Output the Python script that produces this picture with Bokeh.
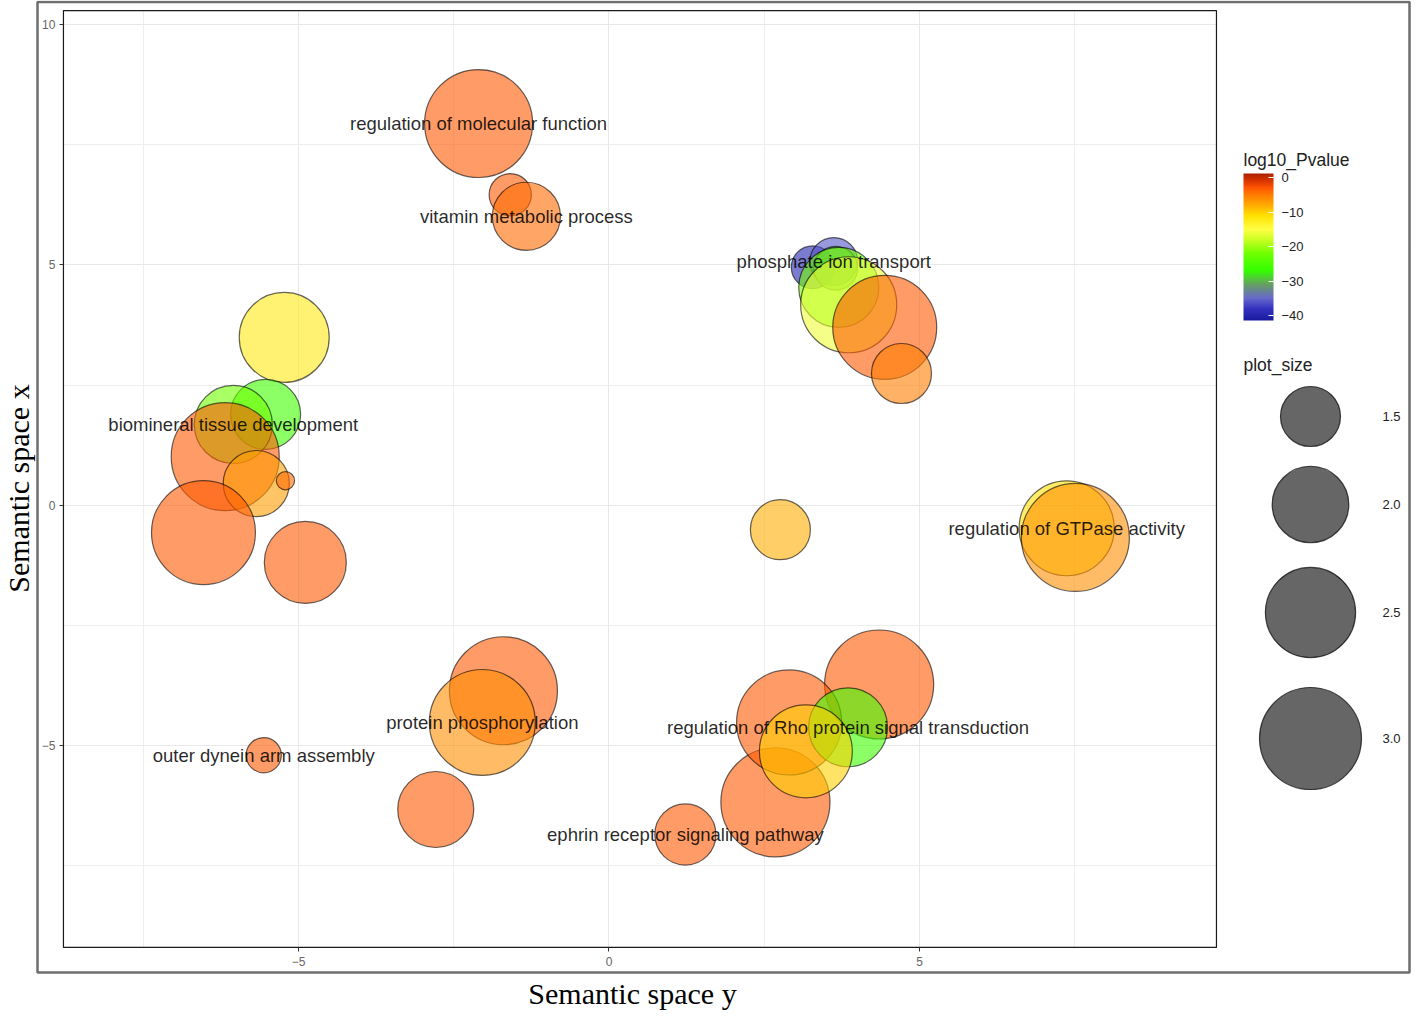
import math
from bokeh.plotting import figure
from bokeh.models import (ColumnDataSource, LinearColorMapper, ColorBar, FixedTicker,
                          Label, BoxAnnotation, Range1d, Grid)
from bokeh.core.properties import value
from bokeh.embed import file_html
from bokeh.resources import INLINE

# ---------------- data ----------------
terms = ["regulation of molecular function", "", "vitamin metabolic process",
         "", "phosphate ion transport", "", "", "", "", "",
         "", "", "biomineral tissue development", "", "", "", "", "",
         "", "regulation of GTPase activity", "",
         "", "protein phosphorylation", "", "outer dynein arm assembly",
         "ephrin receptor signaling pathway", "", "", "",
         "regulation of Rho protein signal transduction", ""]
plot_X = [-2.10, -1.59, -1.33,
          3.28, 3.62, 3.65, 3.70, 3.86, 4.44, 4.71,
          -5.23, -5.53, -6.05, -6.18, -5.68, -5.21, -6.53, -4.89,
          2.76, 7.37, 7.51,
          -1.70, -2.04, -2.79, -5.56,
          1.23, 2.68, 4.35, 2.90, 3.85, 3.17]
plot_Y = [7.94, 6.46, 6.01,
          4.95, 5.07, 4.93, 4.53, 4.17, 3.70, 2.74,
          3.49, 1.89, 1.68, 1.01, 0.45, 0.51, -0.57, -1.19,
          -0.51, -0.48, -0.67,
          -3.86, -4.52, -6.33, -5.20,
          -6.85, -6.18, -3.73, -4.52, -4.62, -5.12]
plot_size = [3.28, 1.10, 1.73,
             1.11, 1.21, 1.13, 2.12, 2.74, 3.09, 1.50,
             2.49, 1.79, 2.05, 3.28, 1.67, 0.78, 3.09, 2.19,
             1.50, 2.70, 3.28,
             3.28, 3.18, 1.98, 0.98,
             1.53, 3.33, 3.33, 3.14, 2.08, 2.61]
log10_pvalue = [-3, -3, -4,
                -40, -36, -30, -22, -16, -3, -5,
                -12, -26, -22, -3, -7, -4, -3, -3,
                -8, -11, -6,
                -3, -6, -3, -3,
                -3, -3, -3, -3, -26, -10]

x_ticks = [-5, 0, 5]
y_ticks = [-5, 0, 5, 10]
minor_ticks = [-7.5, -2.5, 2.5, 7.5]
cbar_ticks = [-40, -30, -20, -10, 0]
size_legend = [1.5, 2.0, 2.5, 3.0]

# ---------------- scales ----------------
def size_px(v):
    # area-proportional size scale (diameter in px)
    return math.sqrt(max(4536.0 * v - 3204.0, 1.0))

def hex2rgb(h):
    return tuple(int(h[i:i + 2], 16) for i in (1, 3, 5))

anchors = [(-41.4, "#1a1aa0"), (-38, "#3333c0"), (-35, "#6868cc"), (-31, "#66a060"),
           (-27, "#33ff00"), (-22, "#70ff00"), (-18, "#ccff22"), (-15, "#ffff44"),
           (-11, "#ffe000"), (-8, "#ffaa00"), (-5, "#ff7b00"), (-3, "#ff5500"),
           (-1, "#d83400"), (1.2, "#a82000")]
LOW, HIGH = -41.4, 1.2
palette = []
N = 256
for i in range(N):
    v = LOW + (HIGH - LOW) * i / (N - 1)
    for j in range(len(anchors) - 1):
        v0, c0 = anchors[j]
        v1, c1 = anchors[j + 1]
        if v0 <= v <= v1:
            t = (v - v0) / (v1 - v0)
            a, b = hex2rgb(c0), hex2rgb(c1)
            palette.append("#%02x%02x%02x" % tuple(round(a[k] + (b[k] - a[k]) * t) for k in range(3)))
            break
mapper = LinearColorMapper(palette=palette, low=LOW, high=HIGH)

# ---------------- canvas / ranges ----------------
W, H = 1411, 1011                     # whole canvas is the frame
X0, X1 = -9.7987, 12.9227             # visible data range over the canvas
Y0, Y1 = -10.5326, 10.4993
PX0, PX1 = -8.785, 9.782              # plotting panel
PY0, PY1 = -9.20, 10.29

def sx_to_x(px):
    return X0 + (X1 - X0) * px / W

def sy_to_y(py):
    return Y1 - (Y1 - Y0) * py / H

def scr_y(py):                        # screen-unit y (measured from bottom)
    return H - py

src = ColumnDataSource(dict(x=plot_X, y=plot_Y, val=log10_pvalue,
                            size=[size_px(s) for s in plot_size]))
lab_idx = [i for i, t in enumerate(terms) if t]
lab_src = ColumnDataSource(dict(x=[plot_X[i] for i in lab_idx], y=[plot_Y[i] for i in lab_idx],
                                text=[terms[i] for i in lab_idx]))

p = figure(frame_width=W, frame_height=H, output_backend="svg", toolbar_location=None,
           x_range=Range1d(X0, X1), y_range=Range1d(Y0, Y1),
           min_border_left=0, min_border_right=0, min_border_top=0, min_border_bottom=0,
           background_fill_color="white", border_fill_color="white")
p.outline_line_color = None

for ax, tk, loc, bnd, so in ((p.xaxis, x_ticks, PY0, (PX0, PX1), 6), (p.yaxis, y_ticks, PX0, (PY0, PY1), 4)):
    ax.ticker = FixedTicker(ticks=tk, minor_ticks=minor_ticks)
    ax.fixed_location = loc
    ax.bounds = bnd
    ax.major_label_overrides = {t: (str(t).replace("-", "\u2212")) for t in tk}
    ax.axis_line_color = None
    ax.major_tick_line_color = "#333333"
    ax.major_tick_out = 4
    ax.major_tick_in = 0
    ax.minor_tick_line_color = None
    ax.major_label_text_font = "Liberation Sans"
    ax.major_label_text_font_size = "12px"
    ax.major_label_text_color = "#666666"
    ax.major_label_standoff = so

grid_native = "cross_bounds" in Grid.properties()
if grid_native:
    p.xgrid.bounds = (PX0, PX1)
    p.ygrid.bounds = (PY0, PY1)
    p.xgrid.cross_bounds = (PY0, PY1)
    p.ygrid.cross_bounds = (PX0, PX1)
    for g in (p.xgrid, p.ygrid):
        g.grid_line_color = "#e8e8e8"
        g.minor_grid_line_color = "#eeeeee"
        g.grid_line_width = 1
else:
    p.xgrid.visible = False
    p.ygrid.visible = False
    gx = x_ticks + minor_ticks
    gy = y_ticks + minor_ticks
    p.segment(x0=gx, x1=gx, y0=[PY0] * len(gx), y1=[PY1] * len(gx), line_color="#e8e8e8", line_width=1)
    p.segment(x0=[PX0] * len(gy), x1=[PX1] * len(gy), y0=gy, y1=gy, line_color="#e8e8e8", line_width=1)

# panel border
p.add_layout(BoxAnnotation(left=PX0, right=PX1, bottom=PY0, top=PY1, fill_alpha=0,
                           line_color="#1a1a1a", line_alpha=1.0, line_width=1.2, level="underlay"))

# bubbles and labels
p.scatter("x", "y", size="size", source=src, fill_color={"field": "val", "transform": mapper},
          fill_alpha=0.6, line_color="black", line_alpha=0.6, line_width=1.2)
p.text("x", "y", text="text", source=lab_src, text_align="center", text_baseline="middle",
       text_font=value("Liberation Sans"), text_font_size="18.5px", text_color="black", text_alpha=0.85)

# outer frame of the ggplot page
p.add_layout(BoxAnnotation(left=37, right=1409, bottom=scr_y(972), top=scr_y(1.5),
                           left_units="screen", right_units="screen", bottom_units="screen", top_units="screen",
                           fill_alpha=0, line_color="#6e6e6e", line_alpha=1.0, line_width=2.5))

# axis titles
p.add_layout(Label(x=632, y=scr_y(993), x_units="screen", y_units="screen", text="Semantic space y",
                   text_align="center", text_baseline="middle", text_font="Liberation Serif",
                   text_font_size="30px", text_color="black"))
p.add_layout(Label(x=18, y=scr_y(488), x_units="screen", y_units="screen", text="Semantic space x",
                   angle=math.pi / 2, text_align="center", text_baseline="middle", text_font="Liberation Serif",
                   text_font_size="30px", text_color="black"))

# colour legend
p.add_layout(Label(x=1243, y=scr_y(159), x_units="screen", y_units="screen", text="log10_Pvalue",
                   text_align="left", text_baseline="middle", text_font="Liberation Sans",
                   text_font_size="17.5px", text_color="#222222"))
cb = ColorBar(color_mapper=mapper, ticker=FixedTicker(ticks=cbar_ticks),
              major_label_overrides={t: str(t).replace("-", "\u2212") for t in cbar_ticks},
              width=30, height=147, location=(1243, scr_y(320)), padding=0, title=None,
              background_fill_alpha=0, border_line_color=None, bar_line_color=None,
              major_tick_line_color="white", major_tick_in=5, major_tick_out=0,
              minor_tick_line_color=None, label_standoff=8,
              major_label_text_font="Liberation Sans", major_label_text_font_size="13px",
              major_label_text_color="#222222")
p.add_layout(cb)

# size legend
p.add_layout(Label(x=1243, y=scr_y(364), x_units="screen", y_units="screen", text="plot_size",
                   text_align="left", text_baseline="middle", text_font="Liberation Sans",
                   text_font_size="17.5px", text_color="#222222"))
leg_py = [416, 504, 612, 738]
leg_src = ColumnDataSource(dict(x=[sx_to_x(1310)] * len(size_legend), y=[sy_to_y(v) for v in leg_py],
                                size=[size_px(s) for s in size_legend],
                                tx=[sx_to_x(1391)] * len(size_legend),
                                text=["%.1f" % s for s in size_legend]))
p.scatter("x", "y", size="size", source=leg_src, fill_color="black", fill_alpha=0.6,
          line_color="black", line_alpha=0.7, line_width=1.2)
p.text("tx", "y", text="text", source=leg_src, text_align="center", text_baseline="middle",
       text_font=value("Liberation Sans"), text_font_size="13px", text_color="#222222")

open("out.html", "w").write(file_html(p, INLINE))
